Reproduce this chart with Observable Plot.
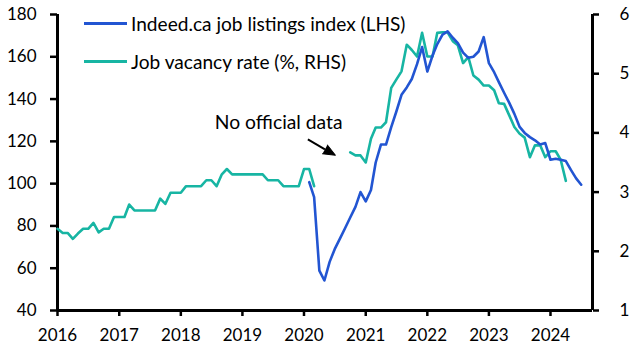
<!DOCTYPE html>
<html>
<head>
<meta charset="utf-8">
<script src="https://cdn.jsdelivr.net/npm/d3@7"></script>
<script src="https://cdn.jsdelivr.net/npm/@observablehq/plot@0.6"></script>
<style>
  html, body { margin: 0; padding: 0; background: #fff; }
  #wrap { position: relative; width: 633px; height: 359px; font-family: Lato, "Open Sans", sans-serif; }
  .leg { position: absolute; left: 84px; display: flex; align-items: center; font-size: 19.1px; color: #000; white-space: nowrap; }
  .leg .sw { width: 43px; height: 3px; margin-right: 4px; }
</style>
</head>
<body>
<div id="wrap"></div>
<script>
// ---- Data ----
const seriesNames = ["Indeed.ca job listings index (LHS)", "Job vacancy rate (%, RHS)"];
const seriesColors = ["#2255d2", "#17b5a3"];

// Indeed.ca job listings index (LHS), monthly from Feb 2020
const indeedStart = [2020, 2];
const indeed = [
  100.7, 93.6, 58.9, 54.2, 63, 69, 74, 79, 84, 89, 96,
  91.6, 97, 110, 118.5, 118.5, 126.7, 134, 142, 145.5, 149.5, 156.5, 164.6,
  153, 160.6, 166, 170.5, 172, 169, 166.5, 162, 159.5, 160, 162.5, 169.3,
  157, 152.7, 148, 143, 138.3, 133, 127, 124, 122, 120.5, 118.5, 119.2,
  111.3, 111.8, 111.3, 110.7, 106.5, 102.5, 99.5
];

// Job vacancy rate (%, RHS), monthly, before the gap (from Jan 2016)
const vacancyStartA = [2016, 1];
const vacancyA = [
  2.38, 2.31, 2.31, 2.21, 2.30, 2.38, 2.38, 2.48, 2.32, 2.38, 2.38, 2.58,
  2.58, 2.58, 2.79, 2.69, 2.69, 2.69, 2.69, 2.69, 2.89, 2.80, 2.99, 2.99,
  2.99, 3.10, 3.10, 3.10, 3.10, 3.20, 3.20, 3.10, 3.30, 3.39, 3.30, 3.30,
  3.30, 3.30, 3.30, 3.30, 3.30, 3.20, 3.20, 3.20, 3.10, 3.10, 3.10, 3.10,
  3.39, 3.39, 3.10
];
// after the gap (from Oct 2020)
const vacancyStartB = [2020, 10];
const vacancyB = [
  3.67, 3.62, 3.62,
  3.50, 3.90, 4.09, 4.09, 4.18, 4.76, 4.90, 5.04, 5.49, 5.40, 5.29, 5.69,
  5.29, 5.29, 5.69, 5.70, 5.70, 5.55, 5.48, 5.18, 5.28, 4.97, 4.90, 4.80,
  4.80, 4.72, 4.50, 4.49, 4.30, 4.10, 3.99, 3.92, 3.59, 3.79, 3.79, 3.59,
  3.69, 3.69, 3.55, 3.19
];

const leftTicks = [40, 60, 80, 100, 120, 140, 160, 180];
const rightTicks = [1, 2, 3, 4, 5, 6];
const yearTicks = [2016, 2017, 2018, 2019, 2020, 2021, 2022, 2023, 2024];
const leftDomain = [40, 180];
const rightDomain = [1, 6];
const xDomain = [new Date(Date.UTC(2016, 0, 1)), new Date(Date.UTC(2024, 8, 6))];

// Annotation (data units: date, LHS value)
const noteText = "No official data";
const notePos = [new Date(Date.UTC(2019, 7, 4)), 128.7];
const arrowFrom = [new Date(Date.UTC(2020, 0, 24)), 120.9];
const arrowTo = [new Date(Date.UTC(2020, 4, 4)), 116.2];

// ---- Helpers ----
const toL = v => leftDomain[0] + (v - rightDomain[0]) * (leftDomain[1] - leftDomain[0]) / (rightDomain[1] - rightDomain[0]);
const fromL = l => rightDomain[0] + (l - leftDomain[0]) * (rightDomain[1] - rightDomain[0]) / (leftDomain[1] - leftDomain[0]);
const monthly = (start, values, seg, transform = v => v) =>
  values.map((v, i) => ({date: new Date(Date.UTC(start[0], start[1] - 1 + i, 1)), y: transform(v), seg}));

const indeedData = monthly(indeedStart, indeed, "indeed");
const vacData = [...monthly(vacancyStartA, vacancyA, "a", toL), ...monthly(vacancyStartB, vacancyB, "b", toL)];

const font = "Lato, 'Open Sans', sans-serif";

const chart = Plot.plot({
  width: 633,
  height: 359,
  marginLeft: 57,
  marginRight: 41,
  marginTop: 14,
  marginBottom: 49,
  style: {fontFamily: font, fontSize: "17px", color: "#000", background: "#fff"},
  x: {type: "utc", domain: xDomain},
  y: {domain: leftDomain},
  marks: [
    Plot.axisY({anchor: "left", ticks: leftTicks, tickSize: 7, tickPadding: 14, strokeWidth: 2.5, fontSize: 17, label: null}),
    Plot.axisY({anchor: "right", ticks: rightTicks.map(toL), tickFormat: d => String(Math.round(fromL(d))), tickSize: 6, tickPadding: 21, strokeWidth: 2.5, fontSize: 17, label: null}),
    Plot.axisX({ticks: yearTicks.map(y => new Date(Date.UTC(y, 0, 1))), tickFormat: d3.utcFormat("%Y"), tickSize: 6, tickPadding: 12, strokeWidth: 2.5, fontSize: 17, label: null}),
    Plot.ruleX([xDomain[0], xDomain[1]], {stroke: "#000", strokeWidth: 3}),
    Plot.ruleY([leftDomain[0]], {stroke: "#000", strokeWidth: 3}),
    Plot.line(vacData, {x: "date", y: "y", z: "seg", stroke: seriesColors[1], strokeWidth: 2.6}),
    Plot.line(indeedData, {x: "date", y: "y", stroke: seriesColors[0], strokeWidth: 2.6}),
    Plot.text([noteText], {x: notePos[0], y: notePos[1], text: d => d, fontSize: 19.3, fill: "#000"}),
    Plot.link([0], {x1: arrowFrom[0], y1: arrowFrom[1], x2: arrowTo[0], y2: arrowTo[1], stroke: "#000", strokeWidth: 2}),
    Plot.vector([0], {x: arrowTo[0], y: arrowTo[1], anchor: "start", shape: "spike", length: 12, r: 5, rotate: 119, fill: "#000", stroke: "#000", strokeWidth: 1})
  ]
});

const wrap = document.getElementById("wrap");
wrap.appendChild(chart);
const legTops = [23, 61];
seriesNames.forEach((name, i) => {
  const row = document.createElement("div");
  row.className = "leg";
  row.style.top = (legTops[i] - 12) + "px";
  row.style.height = "24px";
  const sw = document.createElement("div");
  sw.className = "sw";
  sw.style.background = seriesColors[i];
  const tx = document.createElement("span");
  tx.textContent = name;
  row.appendChild(sw);
  row.appendChild(tx);
  wrap.appendChild(row);
});
</script>
</body>
</html>
